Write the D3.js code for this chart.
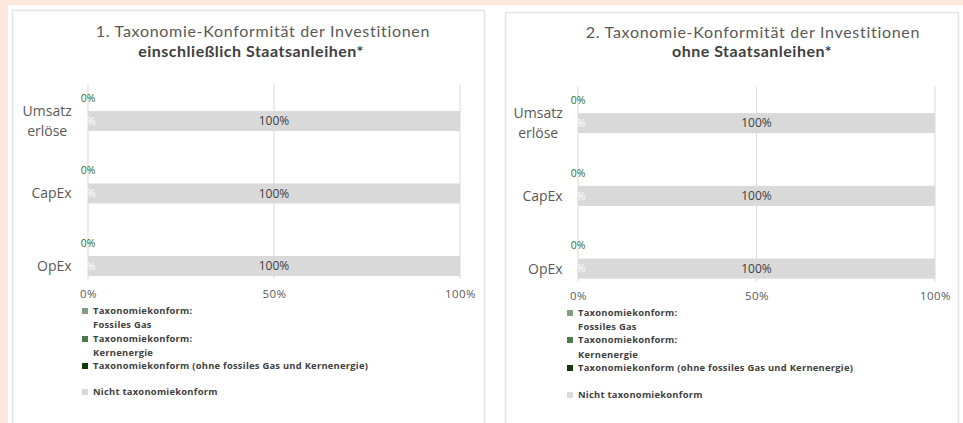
<!DOCTYPE html>
<html><head><meta charset="utf-8">
<script src="https://cdn.jsdelivr.net/npm/d3@7"></script>
<style>
html,body{margin:0;padding:0;background:#fff;}
svg{display:block;}
text{font-family:"Open Sans",sans-serif;}
</style></head>
<body><svg id="chart" width="963" height="423"></svg>
<script>
// ---- data ----
const categories = ["Umsatzerlöse", "CapEx", "OpEx"];
const categoryLines = [["Umsatz", "erlöse"], ["CapEx"], ["OpEx"]];
const seriesNames = [
  "Taxonomiekonform: Fossiles Gas",
  "Taxonomiekonform: Kernenergie",
  "Taxonomiekonform (ohne fossiles Gas und Kernenergie)",
  "Nicht taxonomiekonform"
];
const legendLines = [
  ["Taxonomiekonform:", "Fossiles Gas"],
  ["Taxonomiekonform:", "Kernenergie"],
  ["Taxonomiekonform (ohne fossiles Gas und Kernenergie)"],
  ["Nicht taxonomiekonform"]
];
const seriesColors = ["#819f81", "#4f7a50", "#0b3d0b", "#d9d9d9"];
// chart 1: including sovereign bonds
const inclFossilGas = [0, 0, 0];
const inclNuclear = [0, 0, 0];
const inclAligned = [0, 0, 0];
const inclNotAligned = [100, 100, 100];
// chart 2: excluding sovereign bonds
const exclFossilGas = [0, 0, 0];
const exclNuclear = [0, 0, 0];
const exclAligned = [0, 0, 0];
const exclNotAligned = [100, 100, 100];
const xTicks = [0, 50, 100];
const titles1 = ["1. Taxonomie-Konformität der Investitionen", "einschließlich Staatsanleihen*"];
const titles2 = ["2. Taxonomie-Konformität der Investitionen", "ohne Staatsanleihen*"];

// ---- layout ----
const svg = d3.select("#chart");
svg.append("rect").attr("x", 0).attr("y", 0).attr("width", 963).attr("height", 423).attr("fill", "#fde9dc");
svg.append("rect").attr("x", 8).attr("y", 5).attr("width", 955).attr("height", 418).attr("fill", "#ffffff");

const panels = [
  { series: [inclFossilGas, inclNuclear, inclAligned, inclNotAligned], titles: titles1,
    box: [12, 10, 484, 430], t1: [263, 37], t2: [251, 57], x: [88, 460], y: [84.75, 302.25],
    catX: 72, tickY: 301, legX: 82, legRows: [311, 325, 339, 353, 366, 392] },
  { series: [exclFossilGas, exclNuclear, exclAligned, exclNotAligned], titles: titles2,
    box: [505, 12, 958, 430], t1: [753, 38], t2: [752, 57], x: [578, 935], y: [86.75, 305],
    catX: 563, tickY: 303, legX: 567, legRows: [313, 327, 340, 355, 368, 395] }
];

panels.forEach(p => {
  const g = svg.append("g");
  g.append("rect").attr("x", p.box[0] + 0.5).attr("y", p.box[1] + 0.5)
    .attr("width", p.box[2] - p.box[0]).attr("height", p.box[3] - p.box[1])
    .attr("fill", "#fff").attr("stroke", "#e3e3e3").attr("stroke-width", 1.5);

  g.append("text").attr("x", p.t1[0]).attr("y", p.t1[1]).attr("text-anchor", "middle")
    .style("font-family", "Lato").attr("font-size", 16).attr("letter-spacing", 0.7)
    .style("font-variant-ligatures", "none").attr("fill", "#595959").text(p.titles[0]);
  g.append("text").attr("x", p.t2[0]).attr("y", p.t2[1]).attr("text-anchor", "middle")
    .style("font-family", "Lato").attr("font-size", 16).attr("letter-spacing", 0.5)
    .attr("font-weight", "bold").attr("fill", "#404040").text(p.titles[1]);

  const x = d3.scaleLinear().domain([0, 100]).range(p.x);
  const y = d3.scaleBand().domain(categories).range(p.y).paddingInner(0.724).paddingOuter(0.362);
  const gridBottom = y(categories[categories.length - 1]) + y.bandwidth() + 3;

  // gridlines
  g.selectAll(".grid").data(xTicks).join("line")
    .attr("x1", d => x(d)).attr("x2", d => x(d))
    .attr("y1", p.y[0]).attr("y2", gridBottom)
    .attr("stroke", "#d9d9d9").attr("stroke-width", 1);

  // x tick labels
  const axis = g.append("g").attr("transform", `translate(0,${p.tickY - 11})`)
    .call(d3.axisBottom(x).tickValues(xTicks).tickFormat(d => d + "%").tickSize(0).tickPadding(0));
  axis.select(".domain").remove();
  axis.selectAll("text").style("font-family", "Open Sans").attr("font-size", 11.5)
    .attr("letter-spacing", 0.5).attr("fill", "#595959").attr("dy", "0.71em");

  // stacked bars
  const stackData = categories.map((c, i) => {
    const o = { cat: c };
    p.series.forEach((s, k) => o["s" + k] = s[i]);
    return o;
  });
  const stack = d3.stack().keys(p.series.map((s, k) => "s" + k))(stackData);
  stack.forEach((layer, k) => {
    g.selectAll(null).data(layer).join("rect")
      .attr("x", d => x(d[0])).attr("width", d => x(d[1]) - x(d[0]))
      .attr("y", d => y(d.data.cat)).attr("height", y.bandwidth())
      .attr("fill", seriesColors[k]);
  });

  // "Nicht taxonomiekonform" value in bar center
  const last = stack[stack.length - 1];
  g.selectAll(null).data(last).join("text")
    .attr("x", d => x((d[0] + d[1]) / 2)).attr("y", d => y(d.data.cat) + y.bandwidth() / 2)
    .attr("dy", "0.35em").attr("text-anchor", "middle").attr("font-size", 12).attr("fill", "#404040")
    .text(d => (d[1] - d[0]) + "%");
  // aligned value (white, inside bar start)
  g.selectAll(null).data(stack[2]).join("text")
    .attr("x", d => x(d[1])).attr("y", d => y(d.data.cat) + y.bandwidth() / 2)
    .attr("dy", "0.35em").attr("text-anchor", "middle").attr("font-size", 11).attr("fill", "#ffffff")
    .text(d => (d[1] - d[0]) + "%");
  // fossil gas value (green above bar)
  g.selectAll(null).data(stack[0]).join("text")
    .attr("x", d => x(d[1])).attr("y", d => y(d.data.cat) - 13)
    .attr("dy", "0.35em").attr("text-anchor", "middle").attr("font-size", 10.5).attr("fill", "#2f6b1f")
    .text(d => (d[1] - d[0]) + "%");

  // category labels
  categories.forEach((c, i) => {
    const lines = categoryLines[i];
    const cy = y(c) + y.bandwidth() / 2;
    const t = g.append("text").attr("font-size", 14).attr("fill", "#595959").attr("text-anchor", "middle");
    const n = lines.length;
    lines.forEach((l, j) => {
      t.append("tspan").attr("x", 0).attr("y", cy + (j - (n - 1) / 2) * 20).attr("dy", "0.35em").text(l);
    });
    const w = t.node().getBBox().width;
    t.selectAll("tspan").attr("x", p.catX - w / 2);
  });

  // legend
  let row = 0;
  legendLines.forEach((lines, k) => {
    const ry = p.legRows[row];
    g.append("rect").attr("x", p.legX).attr("y", ry - 3).attr("width", 6).attr("height", 6).attr("fill", seriesColors[k]);
    lines.forEach((l, j) => {
      g.append("text").attr("x", p.legX + 11).attr("y", p.legRows[row + j]).attr("dy", "0.35em")
        .attr("font-size", 9.4).attr("letter-spacing", 0.25).attr("font-weight", "bold").attr("fill", "#404040").text(l);
    });
    row += lines.length;
  });
});
</script></body></html>
